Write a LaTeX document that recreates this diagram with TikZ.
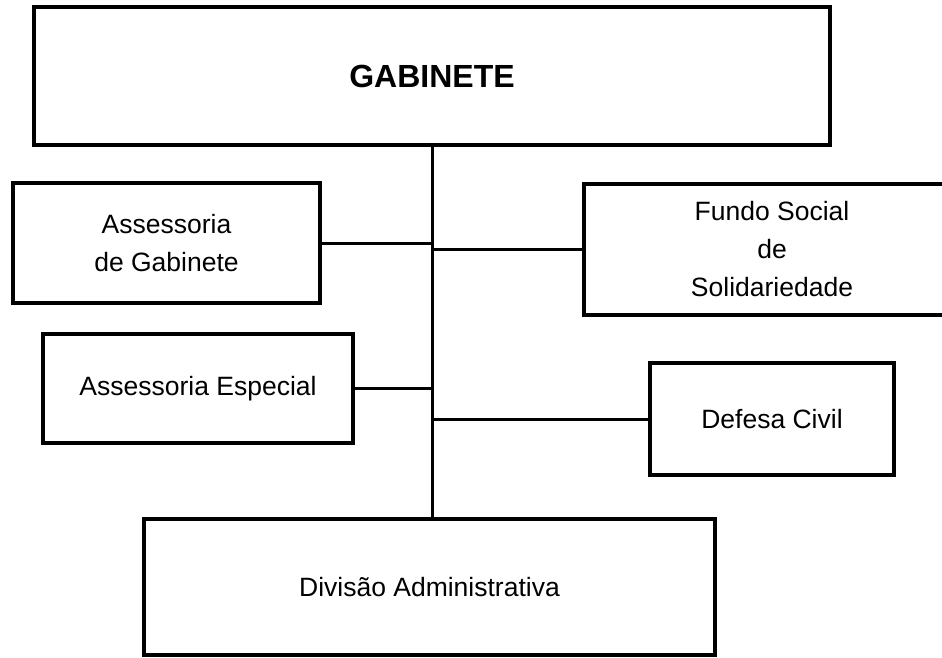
\documentclass[tikz,border=0pt]{standalone}
\usepackage{fontspec}
\setmainfont{Liberation Sans}
\begin{document}
\begin{tikzpicture}[x=1pt,y=-1pt,
  box/.style={draw=black,line width=3.5pt,rectangle,inner sep=0pt,align=center,
    font=\fontsize{26.5}{38}\selectfont,text=black},
  link/.style={line width=3pt,black}]
\clip (0,0) rectangle (942,658);
\fill[white] (0,0) rectangle (942,658);
\node[box,minimum width=796pt,minimum height=138pt,font=\fontsize{32}{38}\selectfont\bfseries] (gab) at (432,76) {GABINETE};
\node[box,minimum width=307pt,minimum height=120pt] (ag) at (166.5,243) {Assessoria\\de Gabinete};
\node[box,minimum width=376pt,minimum height=131pt] (fs) at (772,249.5) {Fundo Social\\de\\Solidariedade};
\node[box,minimum width=310pt,minimum height=109pt] (ae) at (198,388.5) {Assessoria Especial};
\node[box,minimum width=244pt,minimum height=112pt] (dc) at (772,419) {Defesa Civil};
\node[box,minimum width=571pt,minimum height=136pt] (da) at (429.5,587) {Divisão Administrativa};
\coordinate (top) at ([xshift=0pt]gab.south);
\draw[link] (top) -- (top |- da.north);
\draw[link] (ag.east) -- (ag.east -| top);
\draw[link] (fs.west) -- (fs.west -| top);
\draw[link] (ae.east) -- (ae.east -| top);
\draw[link] (dc.west) -- (dc.west -| top);
\end{tikzpicture}
\end{document}
